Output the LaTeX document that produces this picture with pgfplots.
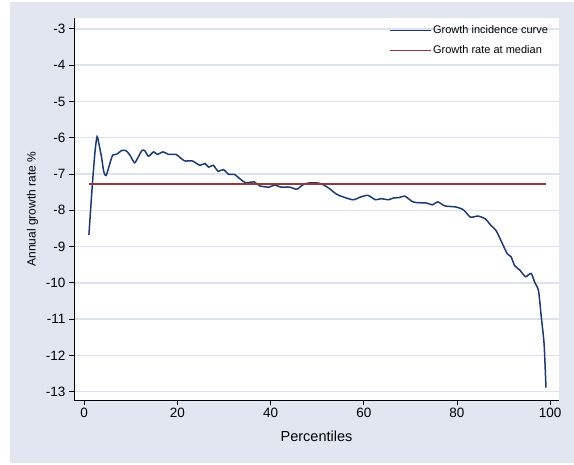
\documentclass[border=0pt]{standalone}
\usepackage{pgfplots}
\pgfplotsset{compat=1.18}
\usepackage{fontspec}
\setmainfont{Liberation Sans}
\definecolor{bgc}{RGB}{225,230,240}
\definecolor{gridc}{RGB}{220,226,238}
\definecolor{navyc}{RGB}{30,58,112}
\definecolor{maroonc}{RGB}{150,55,62}
\begin{document}
\begin{tikzpicture}[x=1bp,y=1bp]
\fill[white] (0,0) rectangle (574,-465);
\fill[bgc] (10,-2) rectangle (574,-463);
\begin{axis}[
  at={(74bp,-400bp)}, anchor=south west,
  width=485bp, height=382bp, scale only axis,
  xmin=-2.2, xmax=101.9, ymin=-13.23, ymax=-2.70,
  axis x line*=bottom, axis y line*=left,
  axis line style={black, line width=0.9bp},
  axis background/.style={fill=white},
  xtick={0,20,40,60,80,100},
  ytick={-13,-12,-11,-10,-9,-8,-7,-6,-5,-4,-3},
  tick align=outside, major tick length=5bp,
  tick style={black, line width=0.8bp},
  ymajorgrids, grid style={gridc, line width=1.4bp},
  /pgf/number format/assume math mode=true,
  ticklabel style={font=\fontsize{13.5bp}{15bp}\selectfont},
  xlabel={Percentiles}, ylabel={Annual growth rate \%},
  xlabel style={font=\fontsize{14.5bp}{16bp}\selectfont, yshift=-6bp},
  ylabel style={font=\fontsize{12bp}{14bp}\selectfont, yshift=1bp},
  legend style={draw=none, fill=none, at={(0.649,0.985)}, anchor=north west,
    font=\fontsize{11bp}{13bp}\selectfont, row sep=6bp, inner sep=0pt},
  legend cell align=left,
  legend image code/.code={\draw[#1, line width=1.1bp] (0bp,0bp) -- (41bp,0bp);},
]
\addplot[navyc, line width=1.5bp, smooth, tension=0.4] coordinates {
(1,-8.68) (1.7,-7.36) (2.3,-6.4) (2.75,-5.97) (3.2,-6.2) (3.7,-6.53) (4.2,-6.94) (4.7,-7.04)
(5.5,-6.71) (6.1,-6.48) (6.9,-6.46) (8.1,-6.35) (9,-6.36) (9.8,-6.48) (10.8,-6.69)
(11.6,-6.53) (12.4,-6.35) (13,-6.36) (13.8,-6.51) (14.9,-6.39) (15.7,-6.46) (16.9,-6.39)
(18.1,-6.46) (19.7,-6.46) (20.4,-6.53) (21.6,-6.64) (23.2,-6.64) (24.8,-6.76) (25.9,-6.71)
(26.7,-6.81) (27.7,-6.76) (28.7,-6.92) (29.9,-6.88) (31,-7.01) (32.2,-7.01) (33.4,-7.13)
(34.6,-7.24) (36.5,-7.22) (37.7,-7.33) (39.7,-7.36) (40.9,-7.3) (42.1,-7.36) (44,-7.36)
(45.6,-7.42) (46.8,-7.31) (48,-7.25) (50.3,-7.25) (51.5,-7.31) (52.7,-7.41) (54.2,-7.56)
(56.2,-7.66) (57.8,-7.71) (59.4,-7.63) (60.9,-7.59) (62.5,-7.71) (63.7,-7.68) (65.3,-7.71)
(66.4,-7.66) (67.6,-7.65) (68.8,-7.61) (70.4,-7.76) (71.5,-7.79) (73.5,-7.8) (74.7,-7.85)
(75.9,-7.77) (77.4,-7.88) (79.8,-7.91) (81.4,-7.99) (82.9,-8.19) (84.5,-8.16) (86.1,-8.24)
(87.3,-8.42) (88.4,-8.56) (89.6,-8.88) (90.8,-9.2) (91.6,-9.28) (92.4,-9.53) (93.5,-9.65)
(94.7,-9.83) (95.9,-9.74) (96.7,-9.99) (97.5,-10.22) (98.1,-10.95) (98.7,-11.69) (99.1,-12.89)
};
\addlegendentry{Growth incidence curve}
\addplot[maroonc, line width=2bp] coordinates {(1,-7.27) (99,-7.27)};
\addlegendentry{Growth rate at median}
\end{axis}
\end{tikzpicture}
\end{document}
